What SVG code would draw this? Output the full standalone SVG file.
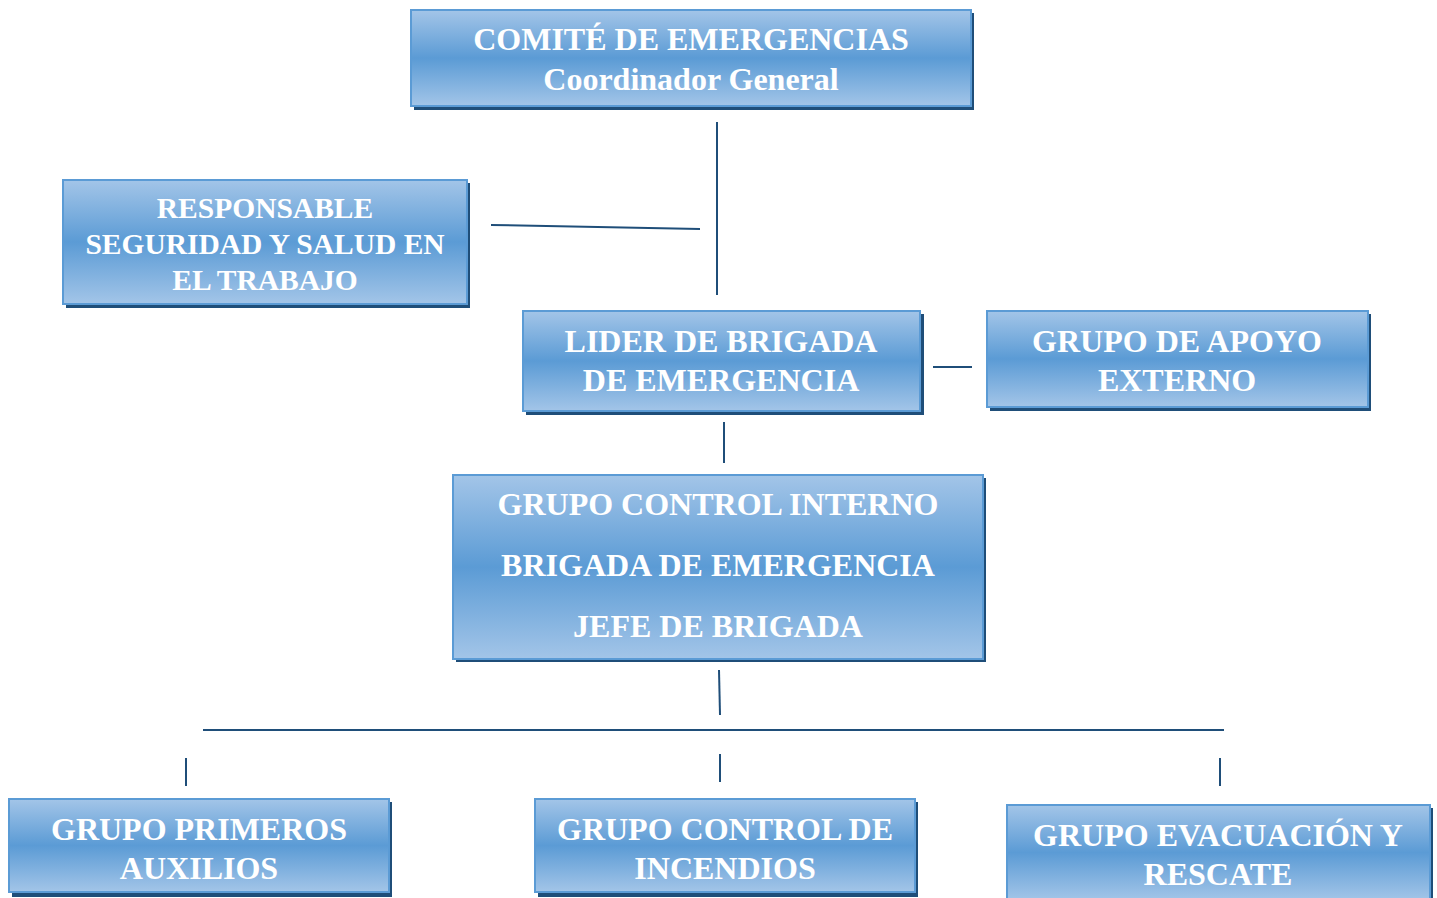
<svg xmlns="http://www.w3.org/2000/svg" width="1437" height="898" viewBox="0 0 1437 898">
<defs>
<linearGradient id="g" x1="0" y1="0" x2="0" y2="1">
<stop offset="0" stop-color="#A3C5E8"/>
<stop offset="0.5" stop-color="#5B9BD5"/>
<stop offset="1" stop-color="#A3C5E8"/>
</linearGradient>
<style>
.sh{fill:#1F4E79}
.bx{fill:url(#g);stroke:#5B9BD5;stroke-width:2}
.t{font-family:"Liberation Serif","Times New Roman",serif;font-weight:bold;font-size:32px;fill:#fff;text-anchor:middle}
.s{font-size:29.5px}
.c line{stroke:#1F4E79;stroke-width:2}
</style>
</defs>
<rect width="1437" height="898" fill="#fff"/>
<g class="c">
<line x1="717" y1="122" x2="717" y2="295"/>
<line x1="491" y1="225" x2="700" y2="229"/>
<line x1="933" y1="367" x2="972" y2="367"/>
<line x1="724" y1="422" x2="724" y2="463"/>
<line x1="719" y1="670" x2="720" y2="715"/>
<line x1="203" y1="730" x2="1224" y2="730"/>
<line x1="186" y1="758" x2="186" y2="786"/>
<line x1="720" y1="754" x2="720" y2="782"/>
<line x1="1220" y1="758" x2="1220" y2="786"/>
</g>
<g id="comite">
<rect class="sh" x="414" y="13" width="560" height="97"/>
<rect class="bx" x="411" y="10" width="560" height="96"/>
<text class="t" x="691" y="50">COMITÉ DE EMERGENCIAS</text>
<text class="t" x="691" y="90">Coordinador General</text>
</g>
<g id="responsable">
<rect class="sh" x="66" y="183" width="404" height="125"/>
<rect class="bx" x="63" y="180" width="404" height="124"/>
<text class="t s" x="265" y="218">RESPONSABLE</text>
<text class="t s" x="265" y="254">SEGURIDAD Y SALUD EN</text>
<text class="t s" x="265" y="290">EL TRABAJO</text>
</g>
<g id="lider">
<rect class="sh" x="526" y="314" width="398" height="101"/>
<rect class="bx" x="523" y="311" width="397" height="100"/>
<text class="t" x="721" y="352">LIDER DE BRIGADA</text>
<text class="t" x="721" y="391">DE EMERGENCIA</text>
</g>
<g id="apoyo">
<rect class="sh" x="990" y="314" width="381" height="97"/>
<rect class="bx" x="987" y="311" width="381" height="96"/>
<text class="t" x="1177" y="352">GRUPO DE APOYO</text>
<text class="t" x="1177" y="391">EXTERNO</text>
</g>
<g id="control">
<rect class="sh" x="456" y="478" width="530" height="184"/>
<rect class="bx" x="453" y="475" width="530" height="184"/>
<text class="t" x="718" y="515">GRUPO CONTROL INTERNO</text>
<text class="t" x="718" y="576">BRIGADA DE EMERGENCIA</text>
<text class="t" x="718" y="637">JEFE DE BRIGADA</text>
</g>
<g id="primeros">
<rect class="sh" x="12" y="802" width="380" height="95"/>
<rect class="bx" x="9" y="799" width="380" height="93"/>
<text class="t" x="199" y="840">GRUPO PRIMEROS</text>
<text class="t" x="199" y="879">AUXILIOS</text>
</g>
<g id="incendios">
<rect class="sh" x="538" y="802" width="380" height="95"/>
<rect class="bx" x="535" y="799" width="380" height="93"/>
<text class="t" x="725" y="840">GRUPO CONTROL DE</text>
<text class="t" x="725" y="879">INCENDIOS</text>
</g>
<g id="evacuacion">
<rect class="sh" x="1010" y="808" width="423" height="95"/>
<rect class="bx" x="1007" y="805" width="423" height="95"/>
<text class="t" x="1218" y="846">GRUPO EVACUACIÓN Y</text>
<text class="t" x="1218" y="885">RESCATE</text>
</g>
</svg>
